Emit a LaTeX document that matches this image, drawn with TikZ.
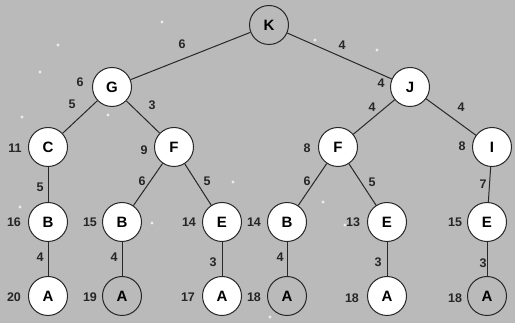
\documentclass[tikz,border=0pt]{standalone}
\usepackage{fontspec}
\setmainfont{Liberation Sans}
\definecolor{bg}{RGB}{186,186,186}
\definecolor{ln}{RGB}{40,40,40}
\begin{document}
\begin{tikzpicture}[x=1pt,y=-1pt,
  nd/.style={circle,draw=ln,line width=1pt,fill=white,minimum size=39pt,inner sep=0pt,font=\bfseries\fontsize{15}{15}\selectfont},
  gnd/.style={nd,fill=bg},
  lb/.style={font=\bfseries\fontsize{12.5}{12.5}\selectfont,text=black!85,inner sep=0pt},
  ed/.style={draw=ln,line width=1pt},
  spark/.style={fill=white,opacity=0.75}]
\fill[bg] (0,0) rectangle (515,323);
\useasboundingbox (0,0) rectangle (515,323);
% sparkles
\foreach \p in {(162,22),(58,45),(22,117),(40,72),(377,50),(315,40),(152,223),(233,182),(20,207),(323,202),(270,317),(108,115),(345,225)}
  \fill[spark] \p circle (1.6);
% nodes
\node[gnd] (K) at (269,25) {K};
\node[nd] (G) at (112,87) {G};
\node[nd] (J) at (410,87) {J};
\node[nd] (C) at (48,147) {C};
\node[nd] (F1) at (174,147) {F};
\node[nd] (F2) at (338,147) {F};
\node[nd] (I) at (492,147) {I};
\node[nd] (B1) at (48,222) {B};
\node[nd] (B2) at (122,222) {B};
\node[nd] (E1) at (222,222) {E};
\node[nd] (B3) at (287,222) {B};
\node[nd] (E2) at (387,222) {E};
\node[nd] (E3) at (487,222) {E};
\node[nd] (A1) at (48,296) {A};
\node[gnd] (A2) at (122,296) {A};
\node[nd] (A3) at (222,296) {A};
\node[gnd] (A4) at (287,296) {A};
\node[nd] (A5) at (387,296) {A};
\node[gnd] (A6) at (487,296) {A};
% edges
\draw[ed] (K) -- (G);
\draw[ed] (K) -- (J);
\draw[ed] (G) -- (C);
\draw[ed] (G) -- (F1);
\draw[ed] (J) -- (F2);
\draw[ed] (J) -- (I);
\draw[ed] (C) -- (B1);
\draw[ed] (F1) -- (B2);
\draw[ed] (F1) -- (E1);
\draw[ed] (F2) -- (B3);
\draw[ed] (F2) -- (E2);
\draw[ed] (I) -- (E3);
\draw[ed] (B1) -- (A1);
\draw[ed] (B2) -- (A2);
\draw[ed] (E1) -- (A3);
\draw[ed] (B3) -- (A4);
\draw[ed] (E2) -- (A5);
\draw[ed] (E3) -- (A6);
% edge labels
\node[lb] (lKG) at (182,44) {6};
\node[lb] (lKJ) at (342,45) {4};
\node[lb] (lGC) at (72,104) {5};
\node[lb] (lGF) at (152,105) {3};
\node[lb] (lJF) at (372,107) {4};
\node[lb] (lJI) at (461,107) {4};
\node[lb] (lCB) at (40,187) {5};
\node[lb] (lFB1) at (142,181) {6};
\node[lb] (lFE1) at (207,181) {5};
\node[lb] (lFB2) at (307,181) {6};
\node[lb] (lFE2) at (372,182) {5};
\node[lb] (lIE) at (483,184) {7};
\node[lb] (lBA1) at (40,257) {4};
\node[lb] (lBA2) at (114,257) {4};
\node[lb] (lEA1) at (213,262) {3};
\node[lb] (lBA3) at (280,257) {4};
\node[lb] (lEA2) at (378,262) {3};
\node[lb] (lEA3) at (483,263) {3};
% node values
\node[lb] (vG) at (80,82) {6};
\node[lb] (vJ) at (381,83) {4};
\node[lb] (vC) at (15,148) {11};
\node[lb] (vF1) at (144,150) {9};
\node[lb] (vF2) at (307,148) {8};
\node[lb] (vI) at (462,146) {8};
\node[lb] (vB1) at (14,222) {16};
\node[lb] (vB2) at (90,222) {15};
\node[lb] (vE1) at (189,222) {14};
\node[lb] (vB3) at (254,222) {14};
\node[lb] (vE2) at (353,222) {13};
\node[lb] (vE3) at (455,222) {15};
\node[lb] (vA1) at (14,297) {20};
\node[lb] (vA2) at (90,297) {19};
\node[lb] (vA3) at (188,297) {17};
\node[lb] (vA4) at (254,297) {18};
\node[lb] (vA5) at (352,298) {18};
\node[lb] (vA6) at (455,298) {18};
\end{tikzpicture}
\end{document}
